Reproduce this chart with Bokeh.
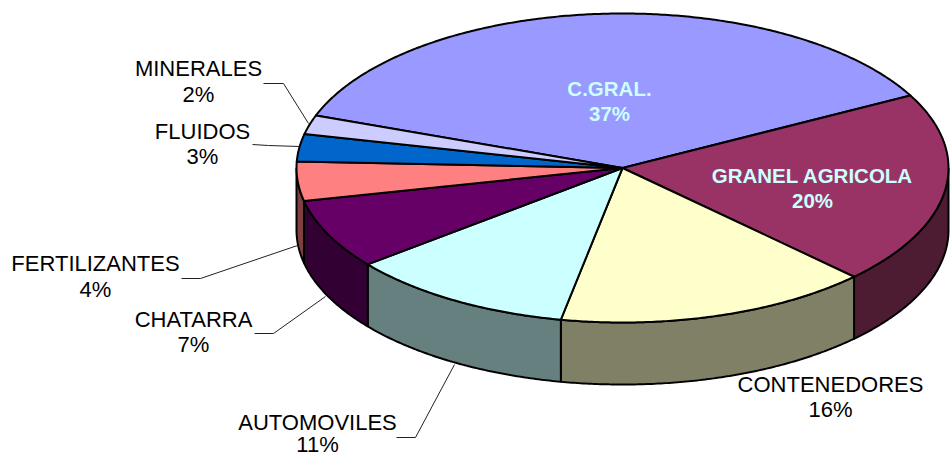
import math
from bokeh.plotting import figure
from bokeh.models import Range1d
from bokeh.core.properties import value
from bokeh.embed import file_html
from bokeh.resources import INLINE

categories = ["C.GRAL.", "GRANEL AGRICOLA", "CONTENEDORES", "AUTOMOVILES",
              "CHATARRA", "FERTILIZANTES", "FLUIDOS", "MINERALES"]
shares = [36.7, 20.2, 15.6, 11.25, 7.3, 4.1, 2.85, 2.0]
pct_labels = ["37%", "20%", "16%", "11%", "7%", "4%", "3%", "2%"]
top_colors = ["#9999FF", "#993366", "#FFFFCC", "#CCFFFF", "#660066", "#FF8080", "#0066CC", "#CCCCFF"]
side_colors = ["#4D4D80", "#4D1C33", "#808066", "#668080", "#330033", "#804040", "#003366", "#666680"]

W, H = 951, 456
CX, CY, RX, RY, DEPTH = 622, 167.5, 326, 154.5, 62
START = 160.1

# label: text centre x, name y, percent y, colour, weight, size
label_pos = [(609, 88, 113, "#CCFFFF", "bold", "20.5px"), (812, 175, 200, "#CCFFFF", "bold", "20.5px"),
             (830, 384, 409, "black", "normal", "22px"), (317, 422, 444, "black", "normal", "22px"),
             (193, 319, 344, "black", "normal", "22px"), (95, 263, 289, "black", "normal", "22px"),
             (202, 131, 156, "black", "normal", "22px"), (198, 68, 94, "black", "normal", "22px")]
leader_x = [None, None, None, [396, 415, 454], [254, 273, 325], [181, 200, 297], [252, 268, 299], [263, 283, 308]]
leader_y = [None, None, None, [437, 437, 364], [333, 333, 296], [278, 278, 245], [144, 145, 146], [83, 83, 123]]

p = figure(width=W, height=H, output_backend="svg", toolbar_location=None,
           x_range=Range1d(0, W), y_range=Range1d(H, 0),
           min_border=0, outline_line_color=None, background_fill_color="white")
p.axis.visible = False
p.grid.visible = False


def pt(t, dy=0.0):
    r = math.radians(t)
    return CX + RX * math.cos(r), CY - RY * math.sin(r) + dy


# slice angle limits (clockwise)
limits = []
a = START
for s in shares:
    b = a - s / sum(shares) * 360
    limits.append((a, b))
    a = b

# side walls: only the near half of the rim (angles -180..0)
for i, (a, b) in enumerate(limits):
    hi, lo = min(a, 0), max(b, -180)
    if hi > lo:
        n = max(2, int((hi - lo) * 2))
        ts = [hi + (lo - hi) * k / n for k in range(n + 1)]
        top = [pt(t) for t in ts]
        bot = [pt(t, DEPTH) for t in reversed(ts)]
        xs = [q[0] for q in top + bot]
        ys = [q[1] for q in top + bot]
        p.patch(xs, ys, fill_color=side_colors[i], line_color="black", line_width=2)

# top faces
for i, (a, b) in enumerate(limits):
    n = max(2, int((a - b) * 2))
    ts = [a + (b - a) * k / n for k in range(n + 1)]
    arc = [pt(t) for t in ts]
    xs = [CX] + [q[0] for q in arc]
    ys = [CY] + [q[1] for q in arc]
    p.patch(xs, ys, fill_color=top_colors[i], line_color="black", line_width=2, line_join="round")

# leaders
for lx, ly in zip(leader_x, leader_y):
    if lx:
        p.line(lx, ly, line_color="#222222", line_width=1)

# labels
for cat, pct, (x, y1, y2, col, weight, size) in zip(categories, pct_labels, label_pos):
    for txt, yy in ((cat, y1), (pct, y2)):
        p.text([x], [yy], text=[txt], text_font=value("Liberation Sans"), text_font_size=size,
               text_font_style=weight, text_color=col, text_align="center", text_baseline="middle")

open("out.html", "w").write(file_html(p, INLINE))
